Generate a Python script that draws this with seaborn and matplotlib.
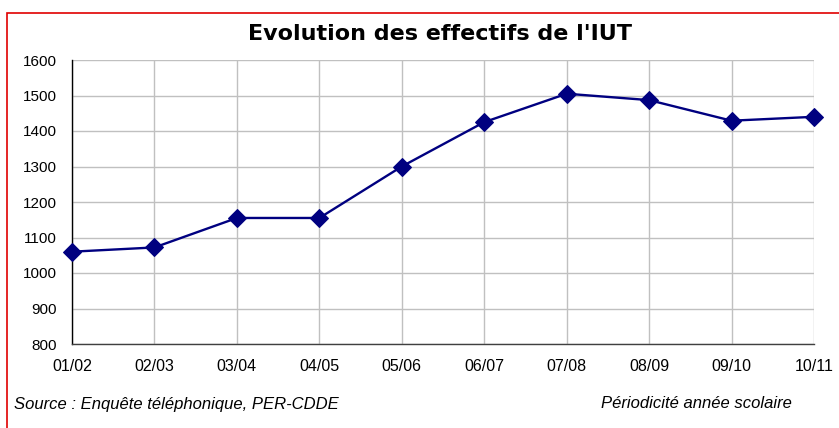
import pandas as pd
import matplotlib
matplotlib.use("Agg")
import matplotlib.pyplot as plt
import matplotlib.patches as patches
import seaborn as sns

# data
annees = ["01/02", "02/03", "03/04", "04/05", "05/06",
          "06/07", "07/08", "08/09", "09/10", "10/11"]
effectifs = [1060, 1072, 1155, 1155, 1300, 1425, 1505, 1487, 1429, 1440]
y_ticks = [800, 900, 1000, 1100, 1200, 1300, 1400, 1500, 1600]

df = pd.DataFrame({"annee": annees, "effectif": effectifs})

sns.set_theme(style="white")
plt.rcParams['font.family'] = ['Liberation Sans', 'DejaVu Sans']

fig = plt.figure(figsize=(8.39, 4.28), dpi=100)
ax = fig.add_axes([72 / 839, 1 - 344 / 428, (814 - 72) / 839, (344 - 60) / 428])

sns.lineplot(data=df, x="annee", y="effectif", sort=False, ax=ax,
             color="#000080", linewidth=1.7, marker="D", markersize=9,
             markeredgecolor="#000080", clip_on=False, zorder=5)

ax.set_xlim(0, len(annees) - 1)
ax.set_ylim(800, 1600)
ax.set_yticks(y_ticks)
ax.set_xticks(range(len(annees)))
ax.set_xticklabels(annees)
ax.set_xlabel("")
ax.set_ylabel("")

ax.grid(True, color="#c0c0c0", linewidth=1)
ax.set_axisbelow(True)
for side in ["top", "right"]:
    ax.spines[side].set_visible(False)
ax.spines["left"].set_color("black")
ax.spines["bottom"].set_color("#404040")
ax.spines["left"].set_linewidth(1)
ax.spines["bottom"].set_linewidth(1)

ax.tick_params(axis="both", direction="out", length=5, width=1,
               colors="black", labelsize=11)
ax.tick_params(axis="x", pad=6, labelsize=11.5)
ax.tick_params(axis="y", pad=6)

fig.text(440 / 839, 1 - 34 / 428, "Evolution des effectifs de l'IUT",
         ha="center", va="center", fontsize=16, fontweight="bold",
         color="black", family=["DejaVu Sans"])

fig.text(14 / 839, 1 - 404 / 428, "Source : Enquête téléphonique, PER-CDDE",
         ha="left", va="center", fontsize=12, style="italic", color="black")
fig.text(792 / 839, 1 - 404 / 428, "Périodicité année scolaire",
         ha="right", va="center", fontsize=12, style="italic", color="black")

# red frame, cropped at right and bottom like the reference
frame = patches.Rectangle((7 / 839, -0.1), 1.2, 1 - 13 / 428 + 0.1,
                          transform=fig.transFigure, fill=False,
                          edgecolor="#e00000", linewidth=1.2, clip_on=False)
fig.patches.append(frame)

fig.savefig("out.png", dpi=100)
